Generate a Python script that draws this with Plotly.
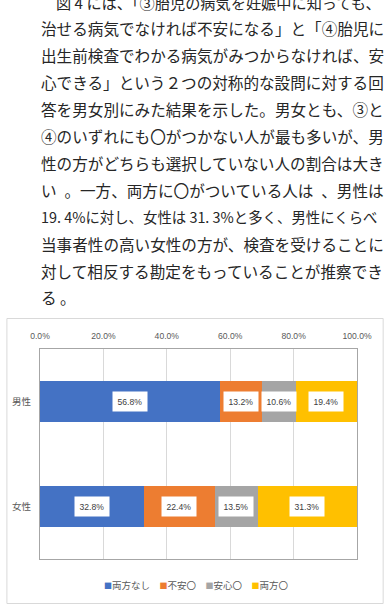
import plotly.graph_objects as go

# ---------------- data ----------------
categories = ["男性", "女性"]
series_names = ["両方なし", "不安〇", "安心〇", "両方〇"]
series_colors = ["#4472C4", "#ED7D31", "#A5A5A5", "#FFC000"]
male_values = [56.8, 13.2, 10.6, 19.4]
female_values = [32.8, 22.4, 13.5, 31.3]
x_tick_values = [0, 20, 40, 60, 80, 100]
x_tick_labels = ["0.0%", "20.0%", "40.0%", "60.0%", "80.0%", "100.0%"]

paragraph_lines = [
    "図 4 には、「③胎児の病気を妊娠中に知っても、",
    "治せる病気でなければ不安になる」と「④胎児に",
    "出生前検査でわかる病気がみつからなければ、安",
    "心できる」という２つの対称的な設問に対する回",
    "答を男女別にみた結果を示した。男女とも、③と",
    "④のいずれにも〇がつかない人が最も多いが、男",
    "性の方がどちらも選択していない人の割合は大き",
    "い\u2002。一方、両方に〇がついている人は\u2002、男性は",
    "19. 4%に対し、女性は 31. 3%と多く、男性にくらべ",
    "当事者性の高い女性の方が、検査を受けることに",
    "対して相反する勘定をもっていることが推察でき",
    "る 。",
]

# ---------------- layout geometry (pixels) ----------------
W, H = 386, 610
PL, PR, PT, PB = 36, 357, 349, 559  # plot area
pw, ph = PR - PL, PB - PT


def px_x(px):
    return (px - PL) / pw


def px_y(py):
    return (PB - py) / ph


values_by_series = [list(v) for v in zip(male_values, female_values)]

fig = go.Figure()
for name, color, vals in zip(series_names, series_colors, values_by_series):
    fig.add_trace(go.Bar(
        y=categories, x=vals, name=name, orientation="h",
        marker=dict(color=color, line=dict(width=0)),
        showlegend=False, hoverinfo="skip",
    ))

annotations = []
# data labels with white boxes
for ci, cat in enumerate(categories):
    cum = 0.0
    for si in range(len(series_names)):
        v = values_by_series[si][ci]
        annotations.append(dict(
            x=cum + v / 2, y=cat, xref="x", yref="y",
            text=f"{v:.1f}%", showarrow=False,
            font=dict(family="Liberation Sans", size=8.6, color="#404040"),
            bgcolor="white", borderpad=4.5,
        ))
        cum += v

# paragraph text
FS = 15.6
line_sizes = {0: 15.2, 8: 14.4}
line_h = 26.9
first_y = 1.5
for i, line in enumerate(paragraph_lines):
    x0 = 51 if i == 0 else 36
    annotations.append(dict(
        x=px_x(x0), y=px_y(first_y + i * line_h), xref="paper", yref="paper",
        xanchor="left", yanchor="middle", text=line, showarrow=False,
        borderpad=0,
        font=dict(family="Noto Sans CJK JP", size=line_sizes.get(i, FS),
                  color="#262626"),
    ))

# legend built from series names/colors
legend_parts = []
for name, color in zip(series_names, series_colors):
    legend_parts.append(
        f"<span style='color:{color};font-size:8px'>■</span>{name}"
    )
legend_text = "　".join(legend_parts)
annotations.append(dict(
    x=px_x(194), y=px_y(585), xref="paper", yref="paper",
    xanchor="center", yanchor="middle", text=legend_text, showarrow=False,
    font=dict(family="Noto Sans CJK JP", size=9.5, color="#595959"),
))

shapes = [
    # chart outer border
    dict(type="rect", xref="paper", yref="paper",
         x0=px_x(2.5), x1=px_x(383.5), y0=px_y(603.5), y1=px_y(318.5),
         line=dict(color="#d9d9d9", width=1), fillcolor="rgba(0,0,0,0)",
         layer="below"),
]

fig.update_layout(
    width=W, height=H,
    margin=dict(l=PL, r=W - PR, t=PT, b=H - PB),
    paper_bgcolor="white", plot_bgcolor="white",
    barmode="stack", bargap=0.61,
    annotations=annotations, shapes=shapes,
    xaxis=dict(
        range=[0, 100], side="top", tickmode="array",
        tickvals=x_tick_values, ticktext=x_tick_labels,
        showgrid=True, gridcolor="#d9d9d9", gridwidth=1,
        showline=True, linecolor="#a6a6a6", linewidth=1, mirror=True,
        zeroline=False, ticks="", ticklabelstandoff=6,
        tickfont=dict(family="Liberation Sans", size=8.6, color="#595959"),
        fixedrange=True,
    ),
    yaxis=dict(
        autorange="reversed", showgrid=False,
        showline=True, linecolor="#a6a6a6", linewidth=1, mirror=True,
        ticks="", ticklabelstandoff=6,
        tickfont=dict(family="Noto Sans CJK JP", size=9.5, color="#595959"),
        fixedrange=True,
    ),
    showlegend=False,
)

fig.write_html("out.html")
